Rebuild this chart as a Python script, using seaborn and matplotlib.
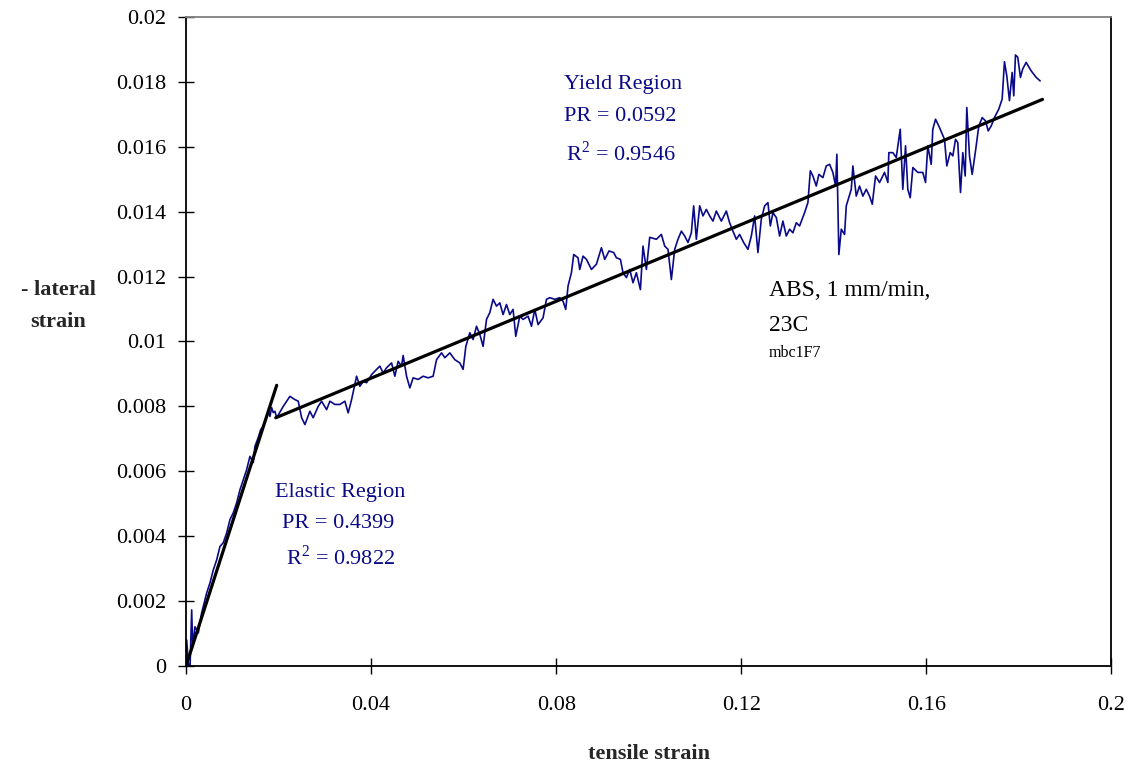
import matplotlib
matplotlib.use("Agg")
import matplotlib.pyplot as plt
import seaborn as sns
import pandas as pd

# ---------------- data ----------------
tensile_strain = [
    0.0000, 0.00015, 0.0005, 0.00086, 0.00123, 0.00145, 0.00194, 0.00266, 0.00339, 0.00447,
    0.00518, 0.0059, 0.00663, 0.00734, 0.00806, 0.00879, 0.0095, 0.01022, 0.01095, 0.01166,
    0.01238, 0.01311, 0.01382, 0.01454, 0.0149, 0.01562, 0.01613, 0.0167, 0.01728, 0.01778,
    0.01814, 0.01851, 0.01886, 0.01922, 0.01959,
    0.02102, 0.02246, 0.02354, 0.02426, 0.02499, 0.0257, 0.02678, 0.02749, 0.02857, 0.02931,
    0.03039, 0.0311, 0.03218, 0.03326, 0.03434, 0.03505, 0.03579, 0.03687, 0.03758, 0.03829,
    0.03903, 0.04011, 0.04119, 0.0419, 0.04261, 0.04335, 0.04443, 0.04514, 0.04585, 0.04659,
    0.04693, 0.04767, 0.04838, 0.04909, 0.05017, 0.05125, 0.05233, 0.05341, 0.05415, 0.05523,
    0.05594, 0.05702, 0.0581, 0.05918, 0.05989, 0.06048,
    0.06134, 0.06205, 0.06279, 0.0635, 0.06421, 0.06495, 0.06566, 0.06637, 0.06711, 0.06782,
    0.06853, 0.06927, 0.06998, 0.07069, 0.07127, 0.07214, 0.07285, 0.07393, 0.07467, 0.07538,
    0.07609, 0.07717, 0.07791, 0.07862, 0.0797, 0.08078, 0.08149, 0.08207, 0.08257, 0.0833,
    0.0838, 0.08473, 0.0851, 0.08581, 0.08655, 0.08763, 0.0887, 0.08978, 0.0905, 0.09143,
    0.09244, 0.09302, 0.09389, 0.09445, 0.09518, 0.0959, 0.09661, 0.09734, 0.09821, 0.09877,
    0.0995,
    0.10022, 0.10166, 0.10274, 0.10346, 0.10417, 0.1049, 0.10562, 0.10633, 0.10706, 0.10778,
    0.10849, 0.10922, 0.10972, 0.1103, 0.11102, 0.11173, 0.11246, 0.11318, 0.11389, 0.11462,
    0.1157, 0.11678, 0.11749, 0.11821, 0.11894, 0.11965, 0.12052, 0.12145, 0.12218, 0.1229,
    0.12361, 0.12434, 0.12506, 0.12577, 0.12629, 0.12685, 0.12758, 0.1283, 0.12901, 0.12974,
    0.13045, 0.13117, 0.1319, 0.13261,
    0.13369, 0.13441, 0.13493, 0.13549, 0.13622, 0.13678, 0.13765, 0.13838, 0.1391, 0.13981,
    0.14039, 0.14067, 0.1411, 0.14162, 0.14233, 0.1427, 0.14378, 0.14413, 0.14486, 0.14557,
    0.14629, 0.14702, 0.14773, 0.14832, 0.14903, 0.1499, 0.15097, 0.15169, 0.1519, 0.15277,
    0.1535, 0.15436, 0.15492, 0.15551, 0.156, 0.15652, 0.15709, 0.15816, 0.15924, 0.15983,
    0.16032, 0.16106, 0.1614, 0.16199, 0.1627, 0.16344, 0.16393, 0.16443, 0.16516, 0.16573,
    0.16631, 0.1668, 0.16739, 0.16788, 0.1684, 0.16875, 0.16933, 0.16991, 0.17063, 0.17134,
    0.17208, 0.17279, 0.17337, 0.17402, 0.17473, 0.17566, 0.17639, 0.17689, 0.17739, 0.17797,
    0.17855, 0.1789, 0.17927, 0.17976, 0.18035, 0.18084, 0.18158, 0.18266, 0.18374, 0.1846,
]
lateral_strain = [
    0.00000, 0.00080, 0.00009, -0.00012, 0.00173, 0.00060, 0.00121, 0.00102, 0.00164, 0.00225,
    0.00256, 0.00296, 0.00327, 0.00368, 0.00380, 0.00410, 0.00451, 0.00472, 0.00503, 0.00543,
    0.00574, 0.00605, 0.00646, 0.00627, 0.00677, 0.00704, 0.00728, 0.00739, 0.00759, 0.00785,
    0.00769, 0.00796, 0.00781, 0.00785, 0.00765,
    0.00800, 0.00831, 0.00821, 0.00816, 0.00765, 0.00744, 0.00785, 0.00765, 0.00800, 0.00816,
    0.00790, 0.00816, 0.00806, 0.00806, 0.00816, 0.00780, 0.00821, 0.00893, 0.00862, 0.00877,
    0.00873, 0.00898, 0.00914, 0.00924, 0.00903, 0.00919, 0.00934, 0.00893, 0.00939, 0.00924,
    0.00957, 0.00893, 0.00857, 0.00888, 0.00883, 0.00893, 0.00888, 0.00893, 0.00944, 0.00965,
    0.00950, 0.00965, 0.00944, 0.00934, 0.00914, 0.00985,
    0.01027, 0.01006, 0.01047, 0.01022, 0.00985, 0.01068, 0.01089, 0.01130, 0.01109, 0.01119,
    0.01083, 0.01114, 0.01083, 0.01099, 0.01016, 0.01078, 0.01068, 0.01078, 0.01047, 0.01099,
    0.01052, 0.01073, 0.01130, 0.01135, 0.01130, 0.01135, 0.01124, 0.01099, 0.01171, 0.01212,
    0.01268, 0.01258, 0.01222, 0.01263, 0.01253, 0.01222, 0.01238, 0.01289, 0.01253, 0.01279,
    0.01274, 0.01258, 0.01253, 0.01212, 0.01197, 0.01222, 0.01181, 0.01212, 0.01160, 0.01294,
    0.01222,
    0.01321, 0.01315, 0.01330, 0.01294, 0.01284, 0.01191, 0.01284, 0.01315, 0.01340, 0.01325,
    0.01305, 0.01335, 0.01418, 0.01315, 0.01418, 0.01387, 0.01407, 0.01387, 0.01371, 0.01402,
    0.01371, 0.01402, 0.01366, 0.01340, 0.01315, 0.01330, 0.01305, 0.01284, 0.01325, 0.01387,
    0.01274, 0.01377, 0.01418, 0.01428, 0.01356, 0.01397, 0.01382, 0.01325, 0.01371, 0.01325,
    0.01346, 0.01335, 0.01366, 0.01356,
    0.01397, 0.01428, 0.01526, 0.01510, 0.01479, 0.01515, 0.01505, 0.01541, 0.01546, 0.01521,
    0.01479, 0.01577, 0.01268, 0.01346, 0.01330, 0.01418, 0.01469, 0.01541, 0.01448, 0.01479,
    0.01448, 0.01469, 0.01448, 0.01423, 0.01510, 0.01490, 0.01521, 0.01490, 0.01582, 0.01582,
    0.01567, 0.01654, 0.01469, 0.01603, 0.01469, 0.01443, 0.01536, 0.01521, 0.01521, 0.01490,
    0.01603, 0.01546, 0.01654, 0.01685, 0.01664, 0.01639, 0.01623, 0.01541, 0.01582, 0.01572,
    0.01623, 0.01613, 0.01459, 0.01582, 0.01510, 0.01721, 0.01572, 0.01515, 0.01587, 0.01664,
    0.01690, 0.01680, 0.01649, 0.01664, 0.01690, 0.01716, 0.01747, 0.01862, 0.01819, 0.01742,
    0.01829, 0.01757, 0.01883, 0.01876, 0.01814, 0.01840, 0.01860, 0.01834, 0.01814, 0.01803,
]

elastic_fit_x = [0.0, 0.0196]
elastic_fit_y = [0.0, 0.00865]
yield_fit_x = [0.0194, 0.1851]
yield_fit_y = [0.00765, 0.01746]

x_ticks = [0, 0.04, 0.08, 0.12, 0.16, 0.2]
x_tick_labels = ["0", "0.04", "0.08", "0.12", "0.16", "0.2"]
y_ticks = [0, 0.002, 0.004, 0.006, 0.008, 0.01, 0.012, 0.014, 0.016, 0.018, 0.02]
y_tick_labels = ["0", "0.002", "0.004", "0.006", "0.008", "0.01", "0.012",
                 "0.014", "0.016", "0.018", "0.02"]

# ---------------- styling ----------------
sns.set_style("white")
plt.rcParams["font.family"] = ["Liberation Serif", "DejaVu Serif"]
plt.rcParams["mathtext.fontset"] = "custom"
plt.rcParams["mathtext.rm"] = "Liberation Serif"

BLUE = "#0a0a88"

fig = plt.figure(figsize=(11.32, 7.65), dpi=100)
ax = fig.add_axes([0.1643, 0.1294, 0.8175, 0.8484])

data = pd.DataFrame({"x": tensile_strain, "y": lateral_strain})
sns.lineplot(data=data, x="x", y="y", sort=False, estimator=None,
             color=BLUE, lw=1.2, ax=ax)
sns.lineplot(x=elastic_fit_x, y=elastic_fit_y, color="black", lw=2.3, ax=ax)
sns.lineplot(x=yield_fit_x, y=yield_fit_y, color="black", lw=2.3, ax=ax)

ax.set_xlim(0, 0.2)
ax.set_ylim(0, 0.02)
ax.set_xticks(x_ticks)
ax.set_xticklabels(x_tick_labels)
ax.set_yticks(y_ticks)
ax.set_yticklabels(y_tick_labels)
ax.tick_params(axis="both", which="major", direction="inout", length=11, width=1,
               color="black", labelsize=16, labelcolor="black",
               bottom=True, left=True, top=False, right=False)
ax.tick_params(axis="x", pad=16)
ax.tick_params(axis="y", pad=9)

for side in ["left", "bottom", "right"]:
    ax.spines[side].set_color("black")
    ax.spines[side].set_linewidth(1.3)
ax.spines["top"].set_color("#808080")
ax.spines["top"].set_linewidth(1.3)

ax.set_xlabel("tensile strain", fontsize=16, fontweight="bold", labelpad=21)
ax.set_ylabel("")
fig.text(58 / 1132, 1 - 306 / 765, "- lateral\nstrain", fontsize=16,
         fontweight="bold", ha="center", va="center", linespacing=1.8)

# annotations
ax.text(0.0944, 0.01793, "Yield Region", color=BLUE, fontsize=16, ha="center", va="center")
ax.text(0.0939, 0.01694, "PR = 0.0592", color=BLUE, fontsize=16, ha="center", va="center")
ax.text(0.0939, 0.01580, r"R$^{\mathrm{2}}$ = 0.9546", color=BLUE, fontsize=16,
        ha="center", va="center")

ax.text(0.0333, 0.00534, "Elastic Region", color=BLUE, fontsize=16, ha="center", va="center")
ax.text(0.0329, 0.00438, "PR = 0.4399", color=BLUE, fontsize=16, ha="center", va="center")
ax.text(0.0333, 0.00333, r"R$^{\mathrm{2}}$ = 0.9822", color=BLUE, fontsize=16,
        ha="center", va="center")

ax.text(0.1259, 0.01156, "ABS, 1 mm/min,", color="black", fontsize=17, ha="left", va="center")
ax.text(0.1259, 0.01048, "23C", color="black", fontsize=17, ha="left", va="center")
ax.text(0.1259, 0.00966, "mbc1F7", color="black", fontsize=11.5, ha="left", va="center")

fig.savefig("out.png", dpi=100)
